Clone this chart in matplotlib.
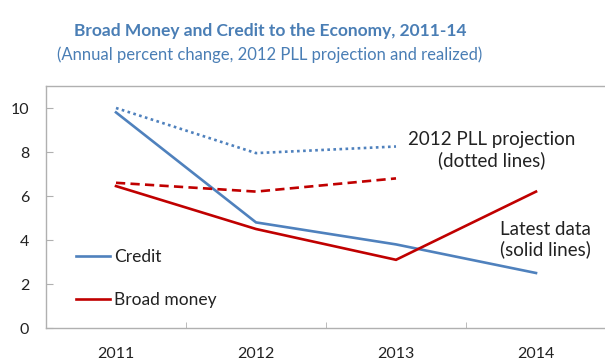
import matplotlib
matplotlib.use("Agg")
import matplotlib.pyplot as plt
import numpy as np

years = ["2011", "2012", "2013", "2014"]
credit = [9.8, 4.8, 3.8, 2.5]
broad_money = [6.45, 4.5, 3.1, 6.2]
credit_proj = [10.0, 7.95, 8.25]
broad_money_proj = [6.6, 6.2, 6.8]
yticks = [0, 2, 4, 6, 8, 10]

BLUE = "#4F81BD"
RED = "#C00000"
TITLE = "#4A7EB5"
GRAY = "#B0B0B0"
INK = "#222222"

plt.rcParams["font.family"] = ["Lato", "DejaVu Sans"]

fig = plt.figure(figsize=(6.05, 3.62), dpi=100)
W, H = 605, 362
ax = fig.add_axes([46 / W, 1 - 328 / H, (606 - 46) / W, (328 - 86) / H])

x = np.arange(len(years))
xp = np.arange(len(credit_proj))

ax.plot(x, credit, color=BLUE, lw=1.9, solid_joinstyle="miter", label="Credit")
ax.plot(x, broad_money, color=RED, lw=1.9, solid_joinstyle="miter", label="Broad money")
ax.plot(xp, credit_proj, color=BLUE, lw=1.9, linestyle=(0, (1, 1.3)))
ax.plot(xp, broad_money_proj, color=RED, lw=1.9, linestyle=(0, (3.5, 2)))

ax.set_xlim(-0.5, 3.5)
ax.set_ylim(0, 11)
ax.set_yticks(yticks)
ax.set_xticks(x)
ax.set_xticklabels(years)
ax.set_xticks(np.arange(0.5, 3.0, 1.0), minor=True)
ax.tick_params(axis="x", which="major", length=0, pad=14, labelsize=11.5, colors=INK)
ax.tick_params(axis="x", which="minor", direction="in", length=4, color=GRAY)
ax.tick_params(axis="y", direction="in", length=5, color=GRAY, pad=12, labelsize=11.5,
               labelcolor=INK)

for side in ["left", "bottom", "top"]:
    ax.spines[side].set_color(GRAY)
    ax.spines[side].set_linewidth(1.0)
ax.spines["right"].set_visible(False)

leg = ax.legend(loc="center left", bbox_to_anchor=(30 / 560, 0.2045), frameon=False,
                fontsize=12.5, handlelength=1.95, handletextpad=0.23, labelspacing=1.55,
                borderpad=0, borderaxespad=0)
for t in leg.get_texts():
    t.set_color(INK)

ax.text(2.686, 8.1, "2012 PLL projection\n(dotted lines)", ha="center", va="center",
        fontsize=13.5, color=INK, linespacing=1.2)
ax.text(3.064, 4.02, "Latest data\n(solid lines)", ha="center", va="center",
        fontsize=13.5, color=INK, linespacing=1.2)

fig.text(270 / W, 1 - 31 / H, "Broad Money and Credit to the Economy, 2011-14",
         ha="center", va="center", fontsize=12.5, fontweight="bold", color=TITLE)
fig.text(270 / W, 1 - 55 / H, "(Annual percent change, 2012 PLL projection and realized)",
         ha="center", va="center", fontsize=12, color=TITLE)

fig.savefig("out.png", dpi=100)
